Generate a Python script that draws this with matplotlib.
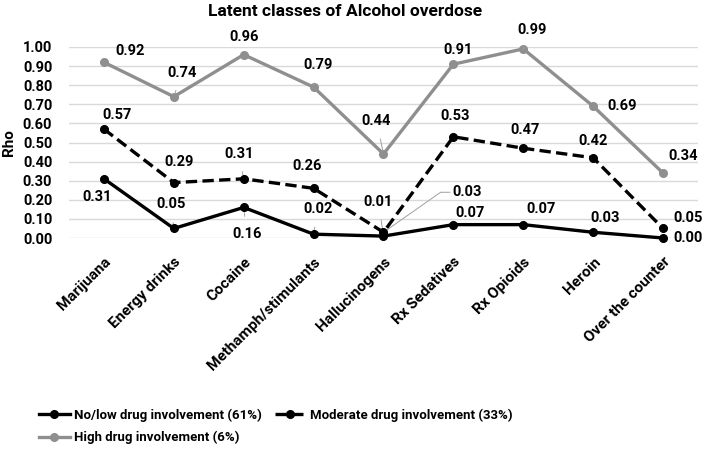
import matplotlib
matplotlib.use("Agg")
import matplotlib.pyplot as plt

categories = ["Marijuana", "Energy drinks", "Cocaine", "Methamph/stimulants",
              "Hallucinogens", "Rx Sedatives", "Rx Opioids", "Heroin", "Over the counter"]
low_vals = [0.31, 0.05, 0.16, 0.02, 0.01, 0.07, 0.07, 0.03, 0.00]
mod_vals = [0.57, 0.29, 0.31, 0.26, 0.03, 0.53, 0.47, 0.42, 0.05]
high_vals = [0.92, 0.74, 0.96, 0.79, 0.44, 0.91, 0.99, 0.69, 0.34]
series_names = ["No/low drug involvement (61%)", "Moderate drug involvement (33%)",
                "High drug involvement (6%)"]
yticks = [0.0, 0.1, 0.2, 0.3, 0.4, 0.5, 0.6, 0.7, 0.8, 0.9, 1.0]

# label offsets in pixels (dx, dy up-positive), and whether a leader line is drawn
high_off = [(26, 11, 0), (8, 24, 1), (0, 18, 0), (4, 22, 1), (-7, 33, 1),
            (5, 14, 0), (9, 19, 1), (29, 0, 0), (20, 17, 0)]
mod_off = [(13, 14, 0), (5, 21, 1), (-5, 25, 1), (-6, 22, 1), (84, 40, 2),
           (2, 21, 1), (2, 18, 0), (0, 17, 0), (25, 10, 0)]
low_off = [(-7, -18, 0), (-3, 24, 1), (3, -27, 1), (4, 25, 1), (-5, 34, 1),
           (17, 12, 0), (18, 16, 0), (12, 14, 0), (25, 0, 0)]

FONT = ["Roboto", "DejaVu Sans"]
plt.rcParams["font.family"] = FONT
plt.rcParams["font.weight"] = "bold"

W, H = 709, 450
fig = plt.figure(figsize=(W / 100, H / 100), dpi=100)
x0, x1, ytop, ybot = 69, 698, 47, 238
ax = fig.add_axes([x0 / W, (H - ybot) / H, (x1 - x0) / W, (ybot - ytop) / H])

x = list(range(len(categories)))
black = "#000000"
gray = "#8f8f8f"
l1, = ax.plot(x, low_vals, color=black, lw=2.4, marker="o", ms=5.5, clip_on=False, zorder=4)
l2, = ax.plot(x, mod_vals, color=black, lw=2.4, ls=(0, (3.4, 1.6)), marker="o", ms=5.5,
              clip_on=False, zorder=4)
l3, = ax.plot(x, high_vals, color=gray, lw=2.4, marker="o", ms=5.5, clip_on=False, zorder=3)

FS = 10.5
ax.set_xlim(-0.5, len(categories) - 0.5)
ax.set_ylim(0, 1.0)
ax.set_yticks(yticks)
ax.set_yticklabels([f"{v:.2f}" for v in yticks], fontsize=FS, fontweight="bold")
ax.set_xticks(x)
ax.set_xticklabels(categories, rotation=45, ha="right", rotation_mode="anchor",
                   fontsize=11, fontweight="bold")
ax.tick_params(axis="both", length=0)
ax.tick_params(axis="x", pad=12)
ax.tick_params(axis="y", pad=12)
ax.grid(axis="y", color="#d9d9d9", lw=1.0)
ax.set_axisbelow(True)
for s in ax.spines.values():
    s.set_visible(False)

ax.set_ylabel("Rho", fontsize=11, fontweight="bold", labelpad=5)
fig.text(345 / W, 1 - 12 / H, "Latent classes of Alcohol overdose", ha="center", va="center",
         fontsize=12.5, fontweight="bold")


def label(vals, offs):
    for i, (v, (dx, dy, lead)) in enumerate(zip(vals, offs)):
        kw = {}
        if lead == 1:
            kw["arrowprops"] = dict(arrowstyle="-", color="#a0a0a0", lw=0.7, shrinkA=6, shrinkB=2)
        elif lead == 2:
            kw["arrowprops"] = dict(arrowstyle="-", color="#a0a0a0", lw=0.7, shrinkA=0, shrinkB=2,
                                    connectionstyle="angle,angleA=180,angleB=35,rad=0",
                                    relpos=(0, 0.5))
        ax.annotate(f"{v:.2f}", (i, v), xytext=(dx, dy), textcoords="offset pixels",
                    ha="center", va="center", fontsize=FS, fontweight="bold",
                    annotation_clip=False, **kw)


label(high_vals, high_off)
label(mod_vals, mod_off)
label(low_vals, low_off)

leg = fig.legend([l1, l3, l2], [series_names[0], series_names[2], series_names[1]],
                 ncol=2, loc="upper left", bbox_to_anchor=(32 / W, 1 - 402 / H),
                 frameon=False, fontsize=9.5, handlelength=2.4, handletextpad=0.25,
                 columnspacing=1.0, labelspacing=0.7, borderpad=0)
for t in leg.get_texts():
    t.set_fontweight("bold")

fig.savefig("out.png", dpi=100)
